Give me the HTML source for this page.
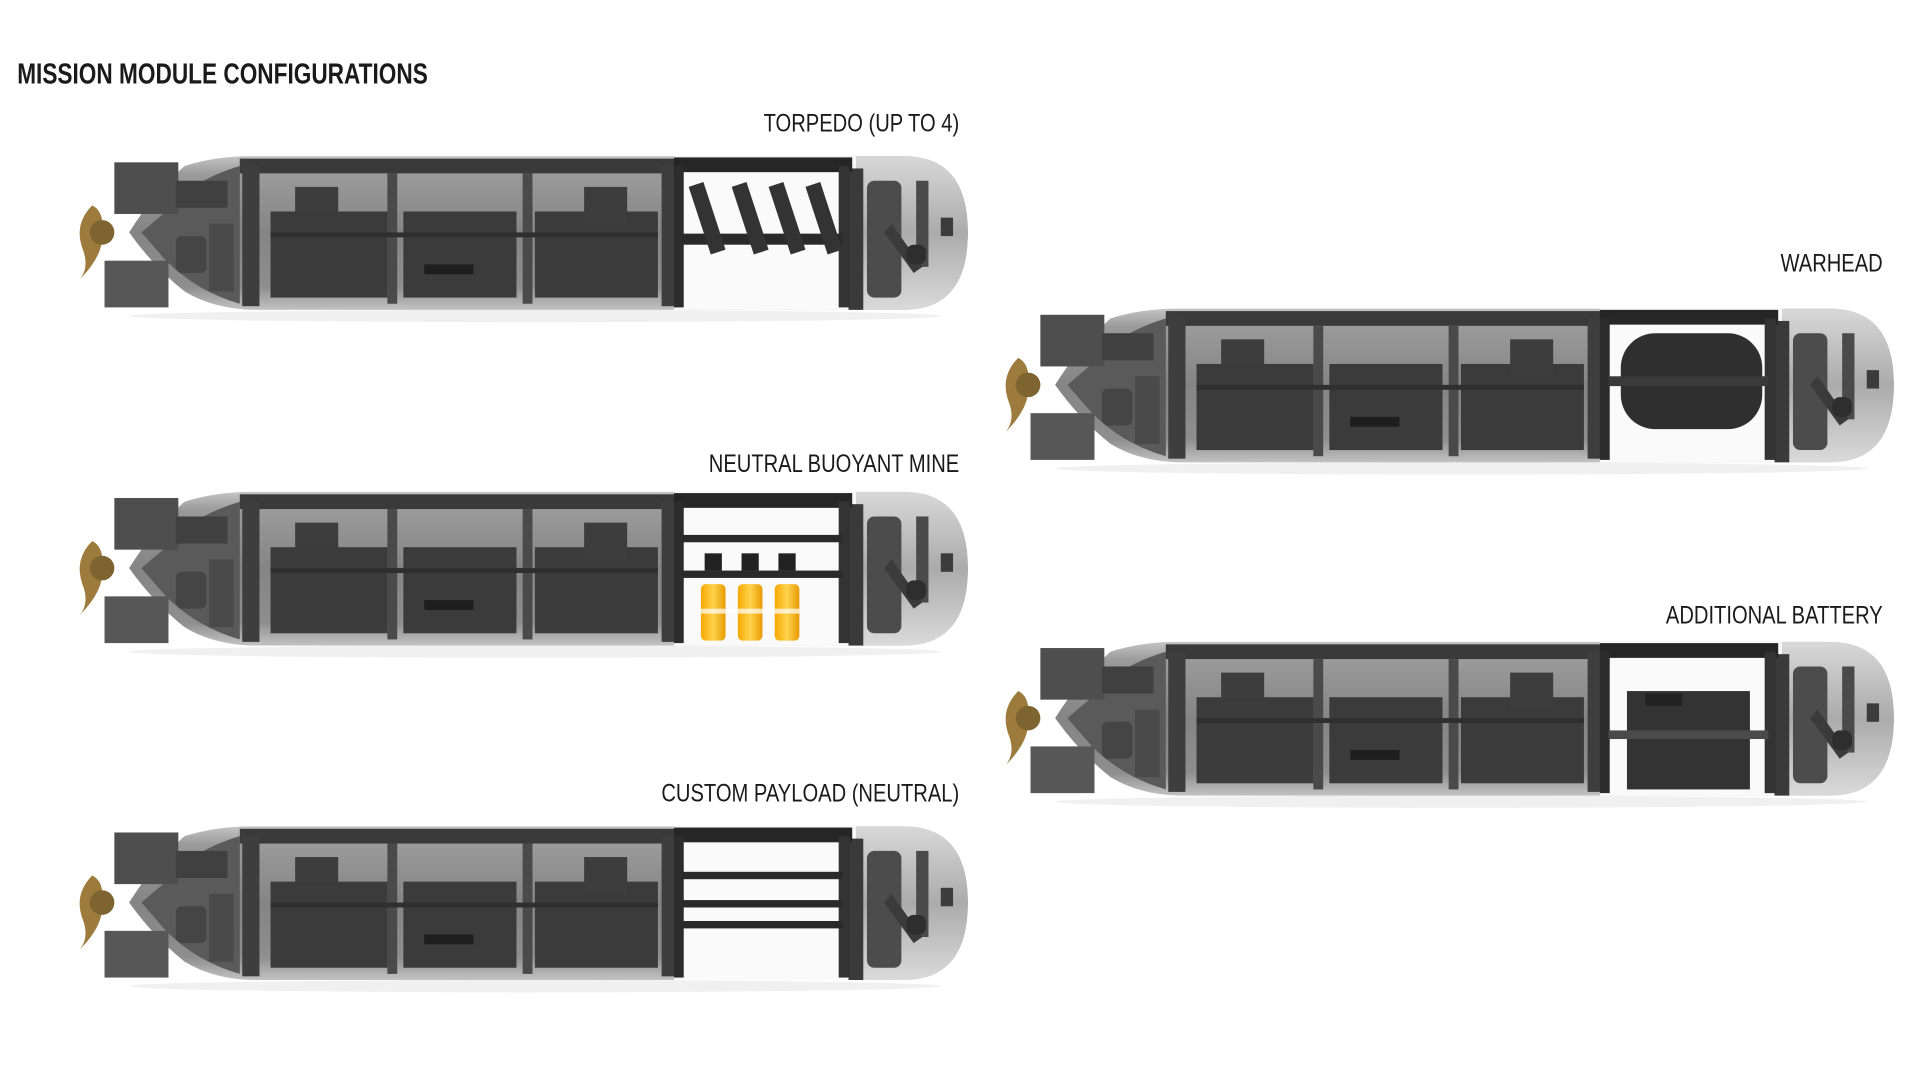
<!DOCTYPE html>
<html><head><meta charset="utf-8"><style>
html,body{margin:0;padding:0;background:#fff;width:1920px;height:1080px;overflow:hidden}
svg{display:block}
text{font-family:"Liberation Sans",sans-serif;fill:#1a1a1a}
</style></head><body>
<svg width="1920" height="1080" viewBox="0 0 1561.3 878.3" preserveAspectRatio="none" xmlns="http://www.w3.org/2000/svg">
<defs>
<linearGradient id="hull" x1="0" y1="0" x2="0" y2="1">
<stop offset="0" stop-color="#c4c4c4"/><stop offset="0.12" stop-color="#9a9a9a"/><stop offset="0.5" stop-color="#858585"/><stop offset="0.85" stop-color="#8e8e8e"/><stop offset="1" stop-color="#c2c2c2"/>
</linearGradient>
<linearGradient id="nose" x1="0" y1="0" x2="0" y2="1">
<stop offset="0" stop-color="#d8d8d8"/><stop offset="0.5" stop-color="#ababab"/><stop offset="1" stop-color="#dadada"/>
</linearGradient>
<linearGradient id="yel" x1="0" y1="0" x2="1" y2="0">
<stop offset="0" stop-color="#f7a800"/><stop offset="0.5" stop-color="#ffd34d"/><stop offset="1" stop-color="#e89a00"/>
</linearGradient>
<g id="sub">
  <ellipse cx="380" cy="130" rx="330" ry="5" fill="#f0f0f0"/>
  <path d="M95,8 Q120,0 150,0 L680,0 Q732,0 732,62 Q732,125 680,125 L150,125 Q118,124 95,110 Q70,90 50,62 Q70,30 95,8 Z" fill="url(#hull)"/>
  <path d="M640,0 L680,0 Q732,0 732,62 Q732,125 680,125 L640,125 Z" fill="url(#nose)"/>
  <rect x="493" y="0" width="148" height="125" fill="#fafafa"/>
  <path d="M140,8 Q100,20 80,45 L60,62 L80,85 Q105,110 140,120 Z" fill="#5a5a5a"/>
  <rect x="38" y="5" width="52" height="42" fill="#4e4e4e"/>
  <rect x="88" y="20" width="42" height="22" fill="#404040"/>
  <rect x="30" y="85" width="52" height="38" fill="#575757"/>
  <path d="M20,40 Q5,55 12,75 Q18,90 10,100 Q30,80 28,62 Q30,45 20,40 Z" fill="#9c7b3c"/>
  <circle cx="28" cy="62" r="10" fill="#7d6430"/>
  <rect x="88" y="65" width="25" height="30" rx="5" fill="#454545"/>
  <rect x="115" y="55" width="20" height="55" fill="#4a4a4a"/>
  <rect x="140" y="2" width="355" height="12" fill="#3a3a3a"/>
  <rect x="142" y="8" width="14" height="114" fill="#3e3e3e"/>
  <rect x="260" y="14" width="8" height="106" fill="#4a4a4a"/>
  <rect x="370" y="14" width="8" height="106" fill="#4a4a4a"/>
  <rect x="483" y="8" width="12" height="114" fill="#3e3e3e"/>
  <rect x="185" y="25" width="35" height="30" fill="#3d3d3d"/>
  <rect x="165" y="45" width="95" height="70" fill="#3b3b3b"/>
  <rect x="273" y="45" width="92" height="70" fill="#3b3b3b"/>
  <rect x="290" y="88" width="40" height="8" fill="#1e1e1e"/>
  <rect x="380" y="45" width="100" height="70" fill="#3b3b3b"/>
  <rect x="420" y="25" width="35" height="30" fill="#3d3d3d"/>
  <rect x="165" y="62" width="315" height="4" fill="#2f2f2f"/>
  <rect x="635" y="10" width="12" height="115" fill="#3a3a3a"/>
  <rect x="650" y="20" width="28" height="95" rx="6" fill="#4c4c4c"/>
  <rect x="690" y="20" width="10" height="70" fill="#4a4a4a"/>
  <path d="M670,55 L695,90 L688,95 L664,62 Z" fill="#3b3b3b"/>
  <rect x="682" y="72" width="16" height="16" rx="6" fill="#2e2e2e"/>
  <rect x="710" y="50" width="10" height="15" fill="#3c3c3c"/>
</g>
<g id="bay">
  <rect x="493" y="1" width="145" height="12" fill="#262626"/>
  <rect x="493" y="8" width="8" height="115" fill="#2c2c2c"/>
  <rect x="627" y="8" width="9" height="115" fill="#333"/>
</g>
</defs>

<text x="14" y="68" font-size="23" font-weight="bold" transform="translate(14,0) scale(0.8,1) translate(-14,0)">MISSION MODULE CONFIGURATIONS</text>
<text x="780" y="107" font-size="20" text-anchor="end" transform="translate(780,0) scale(0.82,1) translate(-780,0)">TORPEDO (UP TO 4)</text>
<text x="1531" y="221" font-size="20" text-anchor="end" transform="translate(1531,0) scale(0.82,1) translate(-1531,0)">WARHEAD</text>
<text x="780" y="384" font-size="20" text-anchor="end" transform="translate(780,0) scale(0.82,1) translate(-780,0)">NEUTRAL BUOYANT MINE</text>
<text x="1531" y="507" font-size="20" text-anchor="end" transform="translate(1531,0) scale(0.82,1) translate(-1531,0)">ADDITIONAL BATTERY</text>
<text x="780" y="652" font-size="20" text-anchor="end" transform="translate(780,0) scale(0.82,1) translate(-780,0)">CUSTOM PAYLOAD (NEUTRAL)</text>

<g transform="translate(55,127)">
  <use href="#sub"/><use href="#bay"/>
  <rect x="500" y="63" width="130" height="9" fill="#2a2a2a"/>
  <g fill="#333">
    <path d="M505,25 l12,-4 l18,55 l-12,4 Z"/>
    <path d="M540,25 l12,-4 l18,55 l-12,4 Z"/>
    <path d="M570,25 l12,-4 l18,55 l-12,4 Z"/>
    <path d="M600,25 l12,-4 l18,55 l-12,4 Z"/>
  </g>
</g>
<g transform="translate(808,251)">
  <use href="#sub"/><use href="#bay"/>
  <rect x="510" y="20" width="115" height="78" rx="28" fill="#2f2f2f"/>
  <rect x="500" y="55" width="130" height="8" fill="#3a3a3a"/>
</g>
<g transform="translate(55,400)">
  <use href="#sub"/><use href="#bay"/>
  <rect x="500" y="35" width="130" height="6" fill="#2a2a2a"/>
  <rect x="500" y="64" width="130" height="6" fill="#2a2a2a"/>
  <rect x="518" y="50" width="14" height="14" fill="#222"/><rect x="515" y="75" width="20" height="46" rx="4" fill="url(#yel)"/>
  <rect x="548" y="50" width="14" height="14" fill="#222"/><rect x="545" y="75" width="20" height="46" rx="4" fill="url(#yel)"/>
  <rect x="578" y="50" width="14" height="14" fill="#222"/><rect x="575" y="75" width="20" height="46" rx="4" fill="url(#yel)"/>
  <rect x="515" y="95" width="80" height="4" fill="#fff" opacity="0.7"/>
</g>
<g transform="translate(808,522)">
  <use href="#sub"/><use href="#bay"/>
  <rect x="515" y="40" width="100" height="80" fill="#333"/>
  <rect x="500" y="72" width="130" height="7" fill="#4a4a4a"/>
  <rect x="530" y="42" width="30" height="10" fill="#222"/>
</g>
<g transform="translate(55,672)">
  <use href="#sub"/><use href="#bay"/>
  <rect x="500" y="37" width="130" height="6" fill="#2a2a2a"/>
  <rect x="500" y="60" width="130" height="6" fill="#2a2a2a"/>
  <rect x="500" y="77" width="130" height="6" fill="#2a2a2a"/>
</g>
</svg>
</body></html>
